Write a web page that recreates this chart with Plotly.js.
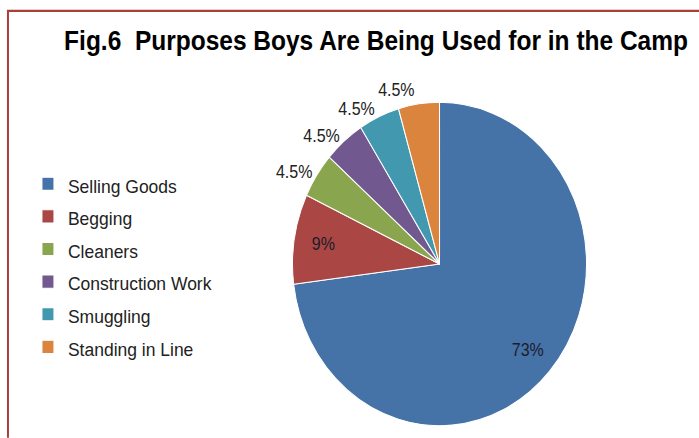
<!DOCTYPE html>
<html>
<head>
<meta charset="utf-8">
<script src="https://cdn.plot.ly/plotly-3.0.1.min.js"></script>
<style>
  html, body { margin: 0; padding: 0; background: #fff; overflow: hidden; width: 699px; height: 438px; }
  #chart { width: 699px; height: 398px; transform: scaleY(1.1); transform-origin: 0 0; }
  #chart path.textline { display: none; }
</style>
</head>
<body>
<div id="chart"></div>
<script>
const categories = ["Selling Goods", "Begging", "Cleaners", "Construction Work", "Smuggling", "Standing in Line"];
const percentValues = [73, 9, 4.5, 4.5, 4.5, 4.5];
const sliceColors = ["#4572A7", "#AA4643", "#89A54E", "#71588F", "#4198AF", "#DB843D"];
const outsideTextPositions = ["none", "none", "outside", "outside", "outside", "outside"];
const insideTextPositions = ["inside", "inside", "none", "none", "none", "none"];

const legendLabels = categories.map(c => '<span style="font-size:17.5px">' + c + '</span>');
const pieDomain = { x: [0.4185, 0.8391], y: [0.0276, 0.7663] };
const labelFont = { family: "Liberation Sans, Arial, sans-serif", size: 16, color: "#222222" };

// the pie itself, with the small slices labelled outside
const pieTrace = {
  type: "pie",
  labels: legendLabels,
  values: percentValues,
  sort: false,
  direction: "clockwise",
  rotation: 0,
  marker: { colors: sliceColors, line: { color: "#ffffff", width: 1 } },
  texttemplate: "%{value}%",
  textposition: outsideTextPositions,
  outsidetextfont: labelFont,
  automargin: false,
  domain: pieDomain,
  hoverinfo: "label+percent"
};

// same data, transparent ring: places the inside labels of the large slices near the rim
const insideLabelTrace = {
  type: "pie",
  labels: legendLabels,
  values: percentValues,
  sort: false,
  direction: "clockwise",
  rotation: 0,
  hole: 0.6,
  marker: { colors: sliceColors.map(() => "rgba(0,0,0,0)"), line: { width: 0 } },
  texttemplate: "%{value}%",
  textposition: insideTextPositions,
  insidetextorientation: "horizontal",
  insidetextfont: { family: "Liberation Sans, Arial, sans-serif", size: 16, color: "#1c1c2c" },
  automargin: false,
  showlegend: false,
  domain: pieDomain,
  hoverinfo: "skip"
};

const layout = {
  width: 699,
  height: 398,
  margin: { l: 0, r: 0, t: 0, b: 0 },
  paper_bgcolor: "#ffffff",
  title: {
    text: "Fig.6  Purposes Boys Are Being Used for in the Camp",
    font: { family: "Liberation Sans, Arial, sans-serif", size: 24.5, color: "#000000", weight: "bold" },
    x: 0.538, xanchor: "center", xref: "container",
    y: 0.907, yanchor: "middle", yref: "container"
  },
  showlegend: true,
  legend: {
    x: 0.04, xanchor: "left",
    y: 0.63, yanchor: "top",
    font: { family: "Liberation Sans, Arial, sans-serif", size: 20.5, color: "#222222" },
    bgcolor: "rgba(0,0,0,0)",
    borderwidth: 0
  },
  shapes: [{
    type: "rect", xref: "paper", yref: "paper",
    x0: 0.0114, x1: 1.05, y0: -0.1, y1: 0.975,
    line: { color: "#A83F3A", width: 2 },
    fillcolor: "rgba(0,0,0,0)", layer: "above"
  }]
};

Plotly.newPlot("chart", [pieTrace, insideLabelTrace], layout, { displayModeBar: false, staticPlot: true });
</script>
</body>
</html>
